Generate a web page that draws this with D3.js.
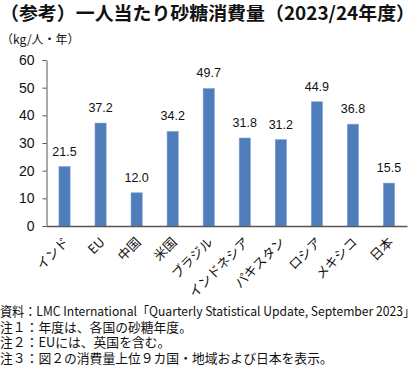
<!DOCTYPE html>
<html><head><meta charset="utf-8">
<script src="https://cdn.jsdelivr.net/npm/d3@7"></script>
<style>body{margin:0;background:#fff}svg{display:block}text{font-family:"Noto Sans CJK JP","Noto Sans",sans-serif}</style>
</head><body><svg id="c" width="420" height="374"></svg>
<script>
const categories = ["インド","EU","中国","米国","ブラジル","インドネシア","パキスタン","ロシア","メキシコ","日本"];
const values = [21.5,37.2,12.0,34.2,49.7,31.8,31.2,44.9,36.8,15.5];
const yTicks = [0,10,20,30,40,50,60];
const title = "（参考）一人当たり砂糖消費量（2023/24年度）";
const unit = "（kg/人・年）";
const notes = ["資料：LMC International「Quarterly Statistical Update, September 2023」","注１：年度は、各国の砂糖年度。","注２：EUには、英国を含む。","注３：図２の消費量上位９カ国・地域および日本を表示。"];

const svg = d3.select("#c");
const mL = 46.5, mR = 407, mT = 60, mB = 226;
const x = d3.scaleBand().domain(categories).range([mL, mR]).paddingInner(0.69).paddingOuter(0.345);
const y = d3.scaleLinear().domain([0,60]).range([mB, mT]);

svg.append("text").attr("x",0).attr("y",20).attr("font-size",18.6).attr("font-weight",700).attr("fill","#111").text(title)
  .attr("textLength",415).attr("lengthAdjust","spacingAndGlyphs");
svg.append("text").attr("x",1).attr("y",44).attr("font-size",12).attr("fill","#111").text(unit);

// bars
svg.selectAll("rect.bar").data(values).join("rect").attr("class","bar")
  .attr("x",(d,i)=>x(categories[i])).attr("width",x.bandwidth())
  .attr("y",d=>y(d)).attr("height",d=>y(0)-y(d))
  .attr("fill","#4F7DB9").attr("stroke","#7FA2D6").attr("stroke-width",0.6);

svg.selectAll("text.val").data(values).join("text").attr("class","val")
  .attr("x",(d,i)=>x(categories[i])+x.bandwidth()/2).attr("y",d=>y(d)-11)
  .attr("text-anchor","middle").attr("font-size",12.5).attr("fill","#111")
  .style("font-family","Arial, 'Liberation Sans', sans-serif").text(d=>d.toFixed(1));

// y axis
const ya = svg.append("g").attr("transform",`translate(${mL},0)`)
  .call(d3.axisLeft(y).tickValues(yTicks).tickSize(4).tickSizeOuter(0));
ya.select(".domain").attr("stroke","#555");
ya.selectAll(".tick line").attr("stroke","#555");
ya.selectAll(".tick text").attr("font-size",14).attr("fill","#111").attr("x",-12)
  .style("font-family","Arial, 'Liberation Sans', sans-serif");

// x axis
const xa = svg.append("g").attr("transform",`translate(0,${mB})`)
  .call(d3.axisBottom(x).tickSize(0).tickSizeOuter(0));
xa.select(".domain").attr("stroke","#555").attr("stroke-width",1.5);
xa.selectAll(".tick text").attr("font-size",13).attr("fill","#111")
  .attr("text-anchor","end").attr("dy",0).attr("y",0)
  .attr("transform","translate(5,17) rotate(-45)");

const nf = svg.append("g");
notes.forEach((n,i)=>{
  nf.append("text").attr("x",0).attr("y",316+i*15.5).attr("font-size",12.8).attr("fill","#111").text(n)
   .attr("textLength", i===0?415:null).attr("lengthAdjust","spacingAndGlyphs");
});
</script></body></html>
